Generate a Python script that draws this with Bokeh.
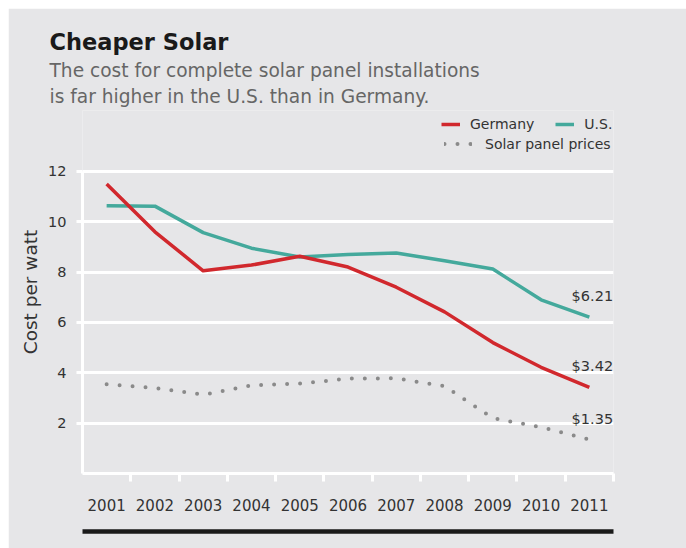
from bokeh.plotting import figure
from bokeh.models import (Range1d, FixedTicker, Legend, LegendItem, Title,
                          LinearAxis, ColumnDataSource)
from bokeh.core.properties import value
from bokeh.embed import file_html
from bokeh.resources import INLINE

# ---------------- data ----------------
years = ["2001", "2002", "2003", "2004", "2005", "2006",
         "2007", "2008", "2009", "2010", "2011"]
germany = [11.5, 9.6, 8.05, 8.28, 8.63, 8.2, 7.4, 6.42, 5.2, 4.22, 3.42]
us = [10.64, 10.62, 9.57, 8.95, 8.6, 8.7, 8.76, 8.45, 8.12, 6.9, 6.21]
panel_prices = [3.55, 3.4, 3.13, 3.5, 3.57, 3.77, 3.78, 3.47, 2.2, 1.84, 1.35]
y_ticks = [2, 4, 6, 8, 10, 12]

title_text = "Cheaper Solar"
subtitle_lines = ["The cost for complete solar panel installations",
                  "is far higher in the U.S. than in Germany."]
y_label = "Cost per watt"

# ---------------- style ----------------
BG = "#e6e6e8"
RED = "#d1282d"
TEAL = "#44a99c"
GREY_DOT = "#8a8a8a"
TXT = "#333333"
FONT = "DejaVu Sans"

xs = [i + 0.5 for i in range(len(years))]
boundaries = list(range(1, len(years) + 1))

# the plotting frame reaches up to the legend; the value axis stops at 12
p = figure(width=678, height=540, output_backend="svg", toolbar_location=None,
           title=None,
           x_range=Range1d(0, len(years)), y_range=Range1d(0, 14.42),
           min_border_left=74, min_border_right=73,
           min_border_top=102, min_border_bottom=75,
           background_fill_color=BG, border_fill_color=BG,
           outline_line_color=None)
p.margin = (8, 0, 0, 8)

# x axis
xa = p.xaxis[0]
xa.ticker = FixedTicker(ticks=xs, minor_ticks=boundaries)
xa.major_label_overrides = {x: y for x, y in zip(xs, years)}
xa.axis_line_color = "white"
xa.axis_line_width = 3
xa.major_tick_line_color = None
xa.major_tick_out = 0
xa.major_tick_in = 0
xa.minor_tick_line_color = "white"
xa.minor_tick_line_width = 3
xa.minor_tick_out = 8
xa.minor_tick_in = 0
xa.major_label_standoff = 17
xa.major_label_text_font = FONT
xa.major_label_text_font_size = "15px"
xa.major_label_text_color = TXT
xa.axis_label = " "
xa.axis_label_text_font_size = "10px"
xa.axis_label_standoff = 4

# bottom black rule (a bare axis line)
rule = LinearAxis(ticker=FixedTicker(ticks=[]), axis_line_color="#1a1a1a",
                  axis_line_width=4.5, major_tick_line_color=None,
                  minor_tick_line_color=None, major_label_text_font_size="0px")
p.add_layout(rule, "below")

# y axis
ya = p.yaxis[0]
ya.ticker = FixedTicker(ticks=y_ticks)
ya.bounds = (0, 12)
ya.axis_line_color = "white"
ya.axis_line_width = 3
ya.major_tick_line_color = "white"
ya.major_tick_line_width = 3
ya.major_tick_out = 6
ya.major_tick_in = 0
ya.minor_tick_line_color = None
ya.major_label_standoff = 10
ya.major_label_text_font = FONT
ya.major_label_text_font_size = "14.5px"
ya.major_label_text_color = TXT
ya.axis_label = y_label
ya.axis_label_text_font = FONT
ya.axis_label_text_font_size = "18.5px"
ya.axis_label_text_font_style = "normal"
ya.axis_label_text_color = TXT
ya.axis_label_standoff = 4

p.xgrid.grid_line_color = None
p.ygrid.grid_line_color = "white"
p.ygrid.grid_line_width = 3

# lines
src = ColumnDataSource(dict(x=xs, germany=germany, us=us, panel=panel_prices))
r_pn = p.line("x", "panel", source=src, line_color=GREY_DOT, line_width=4,
              line_dash="0 13", line_cap="round")
r_us = p.line("x", "us", source=src, line_color=TEAL, line_width=3.5,
              line_join="round")
r_de = p.line("x", "germany", source=src, line_color=RED, line_width=3.5,
              line_join="round")

# end value labels
end_vals = [us[-1], germany[-1], panel_prices[-1]]
end_src = ColumnDataSource(dict(x=[xs[-1]] * 3, y=end_vals,
                                t=["$%.2f" % v for v in end_vals]))
p.text("x", "y", text="t", source=end_src, text_font=value(FONT),
       text_font_size="14.5px", text_color=TXT, text_align="center",
       text_baseline="middle", x_offset=3, y_offset=-21)

# legends inside the (extended) frame
leg_style = dict(background_fill_alpha=0, border_line_color=None, padding=0,
                 margin=0, label_text_font=FONT, label_text_font_size="14px",
                 label_text_color=TXT)
leg1 = Legend(items=[LegendItem(label="Germany", renderers=[r_de]),
                     LegendItem(label="U.S.", renderers=[r_us])],
              orientation="horizontal", location=(359, 340),
              glyph_width=19, label_standoff=10, spacing=21,
              glyph_height=18, label_height=18, **leg_style)
leg2 = Legend(items=[LegendItem(label="Solar panel prices", renderers=[r_pn])],
              location=(362, 321), glyph_width=28, label_standoff=13,
              glyph_height=17, label_height=17, **leg_style)
p.add_layout(leg1, "center")
p.add_layout(leg2, "center")

# subtitle lines and title (first added sits nearest the plot)
for line, so in zip(reversed(subtitle_lines), (7, 0)):
    p.add_layout(Title(text=line, align="left", offset=-33, standoff=so,
                       text_font=FONT, text_font_size="18.6px",
                       text_font_style="normal", text_color="#666666"),
                 "above")
p.add_layout(Title(text=title_text, align="left", offset=-33, standoff=5,
                   text_font=FONT, text_font_size="22.5px",
                   text_font_style="bold", text_color="#1a1a1a"), "above")

open("out.html", "w").write(file_html(p, INLINE))
